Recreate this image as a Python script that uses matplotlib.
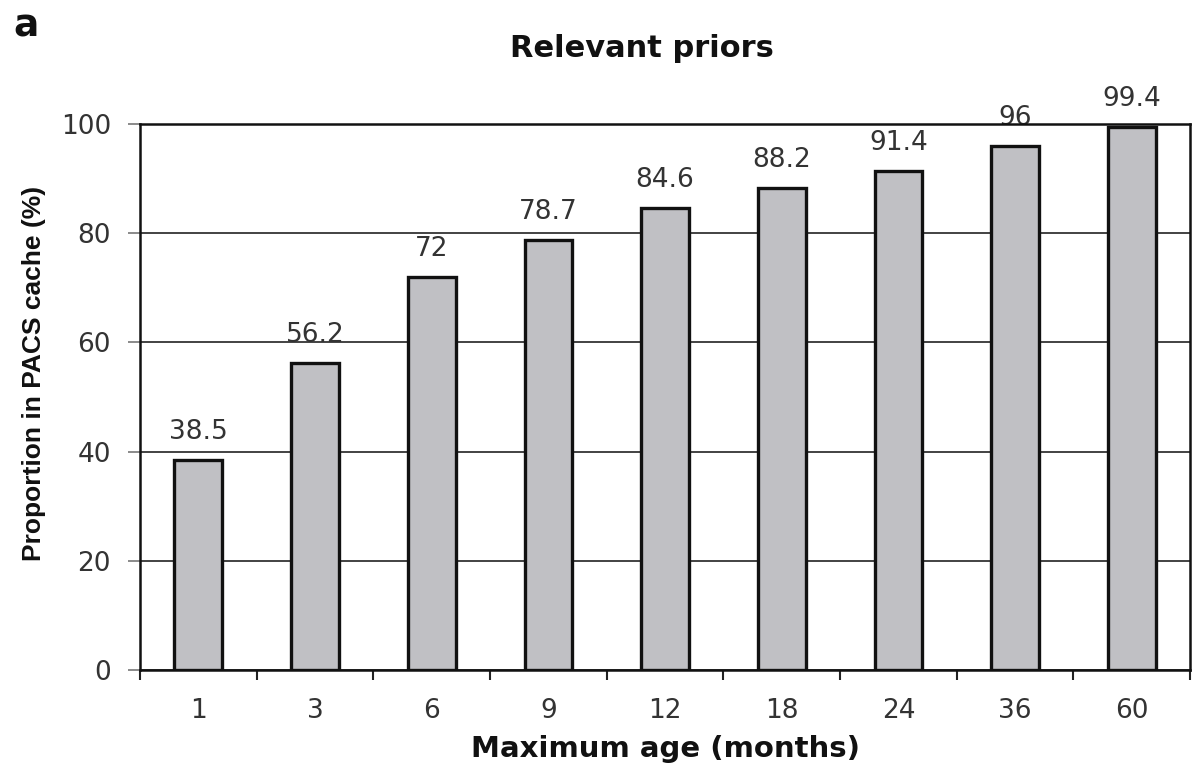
import matplotlib
matplotlib.use("Agg")
import matplotlib.pyplot as plt
import matplotlib.ticker as mticker
import numpy as np

# dades del gràfic
categories = ["1", "3", "6", "9", "12", "18", "24", "36", "60"]
values = [38.5, 56.2, 72, 78.7, 84.6, 88.2, 91.4, 96, 99.4]
value_labels = ["38.5", "56.2", "72", "78.7", "84.6", "88.2", "91.4", "96", "99.4"]
yticks = [0, 20, 40, 60, 80, 100]

# el text original és Arial eixamplat horitzontalment: DejaVu s'hi acosta més d'amplada
plt.rcParams['font.family'] = ['DejaVu Sans']

fig = plt.figure(figsize=(11.94, 7.67), dpi=100)
ax = fig.add_axes([0.1173, 0.1265, 0.8795, 0.7118])

x = np.arange(len(categories))
ax.set_axisbelow(True)
ax.yaxis.grid(True, color="#222222", linewidth=1.2)
ax.bar(x, values, width=0.41, color="#c0c0c4", edgecolor="#111111", linewidth=2.4, zorder=2)

for xi, v, lab in zip(x, values, value_labels):
    ax.annotate(lab, (xi, v), xytext=(0, 11), textcoords="offset points",
                ha="center", va="bottom", fontsize=19, color="#333333", zorder=1)

ax.set_xlim(-0.5, len(categories) - 0.5)
ax.set_ylim(0, 100)
ax.set_yticks(yticks)
ax.set_xticks(x)
ax.set_xticklabels(categories)
ax.xaxis.set_minor_locator(mticker.FixedLocator(np.arange(-0.5, len(categories), 1.0)))

ax.tick_params(axis="x", which="major", length=0, pad=20, labelsize=19, labelcolor="#333333")
ax.tick_params(axis="x", which="minor", length=7, width=1.5, direction="out", color="#222222")
ax.tick_params(axis="y", which="major", length=9, width=1.2, direction="out", color="#777777",
               pad=12, labelsize=19, labelcolor="#333333")

for s in ax.spines.values():
    s.set_linewidth(1.8)
    s.set_color("#111111")

ax.set_xlabel("Maximum age (months)", fontsize=21, fontweight="bold", labelpad=8, color="#111111")
ax.set_ylabel("Proportion in PACS cache (%)", fontsize=19, fontweight="bold",
              family="Liberation Sans", color="#111111")
ax.yaxis.set_label_coords(-0.090, 0.544)
ax.set_title("Relevant priors", fontsize=22, fontweight="bold", pad=48, color="#111111", x=0.478)

fig.text(0.011, 0.952, "a", fontsize=27, fontweight="bold", color="#111111")

fig.savefig("out.png", dpi=100)
